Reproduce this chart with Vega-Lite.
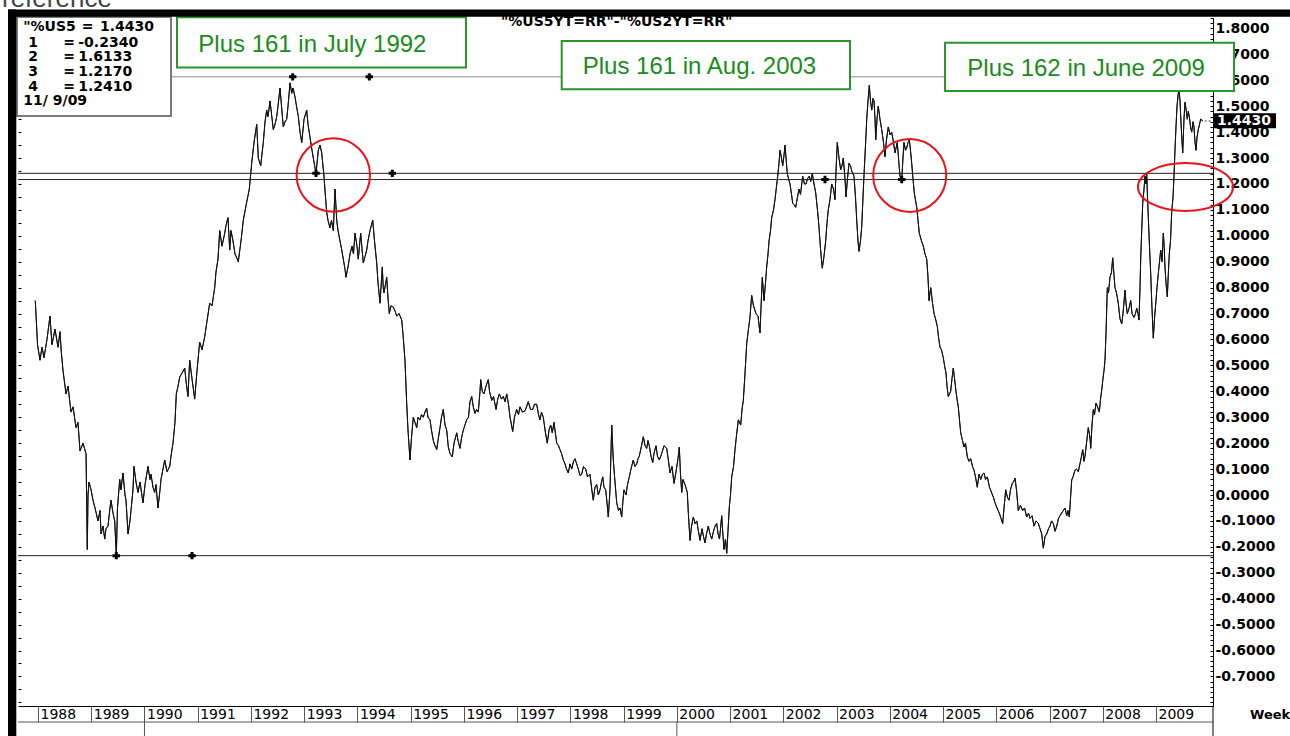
{
"$schema": "https://vega.github.io/schema/vega-lite/v6.json",
"width": 1195,
"height": 688,
"autosize": {"type": "none"},
"padding": {"left": 18, "top": 18, "right": 77, "bottom": 30},
"background": "white",
"config": {"view": {"stroke": null}, "axis": {"grid": false}},
"datasets": {
"spread": [
{"year":1987.949,"spread":0.75},{"year":1987.991,"spread":0.58},{"year":1988.038,"spread":0.52},{"year":1988.075,"spread":0.57},{"year":1988.113,"spread":0.53},{"year":1988.169,"spread":0.60},{"year":1988.225,"spread":0.69},{"year":1988.263,"spread":0.58},{"year":1988.319,"spread":0.64},{"year":1988.376,"spread":0.57},{"year":1988.413,"spread":0.63},{"year":1988.438,"spread":0.55},{"year":1988.470,"spread":0.48},{"year":1988.526,"spread":0.39},{"year":1988.564,"spread":0.42},{"year":1988.620,"spread":0.32},{"year":1988.658,"spread":0.34},{"year":1988.714,"spread":0.26},{"year":1988.751,"spread":0.28},{"year":1988.789,"spread":0.17},{"year":1988.845,"spread":0.20},{"year":1988.902,"spread":0.16},{"year":1988.926,"spread":-0.21},{"year":1988.939,"spread":0.00},{"year":1988.958,"spread":0.05},{"year":1988.996,"spread":0.02},
{"year":1989.033,"spread":-0.02},{"year":1989.071,"spread":-0.05},{"year":1989.127,"spread":-0.10},{"year":1989.165,"spread":-0.06},{"year":1989.184,"spread":-0.15},{"year":1989.221,"spread":-0.12},{"year":1989.253,"spread":-0.17},{"year":1989.277,"spread":-0.13},{"year":1989.315,"spread":-0.12},{"year":1989.352,"spread":-0.05},{"year":1989.371,"spread":-0.02},{"year":1989.409,"spread":-0.07},{"year":1989.441,"spread":-0.10},{"year":1989.471,"spread":-0.234},{"year":1989.493,"spread":-0.05},{"year":1989.535,"spread":0.06},{"year":1989.559,"spread":0.02},{"year":1989.596,"spread":0.085},{"year":1989.634,"spread":0.00},{"year":1989.653,"spread":-0.02},{"year":1989.691,"spread":-0.15},{"year":1989.728,"spread":-0.10},{"year":1989.747,"spread":-0.06},{"year":1989.784,"spread":0.02},{"year":1989.803,"spread":0.11},{"year":1989.841,"spread":0.05},{"year":1989.878,"spread":0.01},{"year":1989.916,"spread":0.05},{"year":1989.972,"spread":-0.03},
{"year":1990.010,"spread":0.04},{"year":1990.066,"spread":0.11},{"year":1990.104,"spread":0.06},{"year":1990.123,"spread":0.08},{"year":1990.160,"spread":0.03},{"year":1990.192,"spread":0.01},{"year":1990.216,"spread":0.04},{"year":1990.254,"spread":-0.05},{"year":1990.292,"spread":0.02},{"year":1990.310,"spread":0.06},{"year":1990.348,"spread":0.10},{"year":1990.380,"spread":0.135},{"year":1990.423,"spread":0.09},{"year":1990.474,"spread":0.11},{"year":1990.498,"spread":0.15},{"year":1990.536,"spread":0.20},{"year":1990.573,"spread":0.28},{"year":1990.598,"spread":0.39},{"year":1990.630,"spread":0.42},{"year":1990.662,"spread":0.455},{"year":1990.705,"spread":0.47},{"year":1990.756,"spread":0.49},{"year":1990.780,"spread":0.44},{"year":1990.817,"spread":0.38},{"year":1990.849,"spread":0.52},{"year":1990.892,"spread":0.45},{"year":1990.943,"spread":0.37},{"year":1990.987,"spread":0.48},
{"year":1991.037,"spread":0.59},{"year":1991.081,"spread":0.56},{"year":1991.131,"spread":0.61},{"year":1991.174,"spread":0.67},{"year":1991.225,"spread":0.74},{"year":1991.268,"spread":0.73},{"year":1991.319,"spread":0.80},{"year":1991.343,"spread":0.86},{"year":1991.381,"spread":0.91},{"year":1991.413,"spread":1.02},{"year":1991.456,"spread":0.96},{"year":1991.507,"spread":1.01},{"year":1991.531,"spread":1.04},{"year":1991.569,"spread":1.07},{"year":1991.601,"spread":0.945},{"year":1991.625,"spread":1.02},{"year":1991.663,"spread":0.98},{"year":1991.700,"spread":0.93},{"year":1991.743,"spread":0.91},{"year":1991.762,"spread":0.90},{"year":1991.813,"spread":0.98},{"year":1991.856,"spread":1.06},{"year":1991.920,"spread":1.13},{"year":1991.969,"spread":1.18},
{"year":1992.014,"spread":1.28},{"year":1992.057,"spread":1.36},{"year":1992.108,"spread":1.43},{"year":1992.138,"spread":1.30},{"year":1992.183,"spread":1.27},{"year":1992.232,"spread":1.36},{"year":1992.264,"spread":1.44},{"year":1992.296,"spread":1.485},{"year":1992.320,"spread":1.46},{"year":1992.358,"spread":1.52},{"year":1992.386,"spread":1.47},{"year":1992.420,"spread":1.41},{"year":1992.452,"spread":1.43},{"year":1992.484,"spread":1.46},{"year":1992.508,"spread":1.50},{"year":1992.546,"spread":1.57},{"year":1992.574,"spread":1.50},{"year":1992.608,"spread":1.42},{"year":1992.640,"spread":1.44},{"year":1992.672,"spread":1.45},{"year":1992.696,"spread":1.50},{"year":1992.734,"spread":1.59},{"year":1992.766,"spread":1.55},{"year":1992.790,"spread":1.57},{"year":1992.828,"spread":1.535},{"year":1992.856,"spread":1.50},{"year":1992.890,"spread":1.46},{"year":1992.922,"spread":1.40},{"year":1992.954,"spread":1.36},{"year":1992.997,"spread":1.45},
{"year":1993.047,"spread":1.485},{"year":1993.072,"spread":1.43},{"year":1993.109,"spread":1.38},{"year":1993.147,"spread":1.33},{"year":1993.171,"spread":1.30},{"year":1993.222,"spread":1.24},{"year":1993.265,"spread":1.33},{"year":1993.297,"spread":1.35},{"year":1993.329,"spread":1.32},{"year":1993.372,"spread":1.23},{"year":1993.400,"spread":1.15},{"year":1993.423,"spread":1.09},{"year":1993.447,"spread":1.06},{"year":1993.485,"spread":1.03},{"year":1993.513,"spread":1.06},{"year":1993.547,"spread":1.02},{"year":1993.579,"spread":1.18},{"year":1993.611,"spread":1.06},{"year":1993.635,"spread":1.02},{"year":1993.673,"spread":0.98},{"year":1993.701,"spread":0.95},{"year":1993.735,"spread":0.91},{"year":1993.767,"spread":0.87},{"year":1993.785,"spread":0.84},{"year":1993.823,"spread":0.88},{"year":1993.861,"spread":0.93},{"year":1993.898,"spread":0.96},{"year":1993.926,"spread":0.93},{"year":1993.954,"spread":1.01},{"year":1993.992,"spread":0.96},
{"year":1994.016,"spread":0.91},{"year":1994.061,"spread":1.01},{"year":1994.086,"spread":0.95},{"year":1994.110,"spread":0.895},{"year":1994.142,"spread":0.92},{"year":1994.174,"spread":0.945},{"year":1994.198,"spread":0.98},{"year":1994.236,"spread":1.02},{"year":1994.287,"spread":1.06},{"year":1994.321,"spread":0.98},{"year":1994.362,"spread":0.895},{"year":1994.386,"spread":0.82},{"year":1994.424,"spread":0.74},{"year":1994.467,"spread":0.88},{"year":1994.484,"spread":0.80},{"year":1994.499,"spread":0.78},{"year":1994.550,"spread":0.84},{"year":1994.574,"spread":0.76},{"year":1994.599,"spread":0.70},{"year":1994.630,"spread":0.73},{"year":1994.674,"spread":0.725},{"year":1994.706,"spread":0.71},{"year":1994.738,"spread":0.69},{"year":1994.781,"spread":0.70},{"year":1994.832,"spread":0.675},{"year":1994.856,"spread":0.62},{"year":1994.893,"spread":0.52},{"year":1994.925,"spread":0.355},{"year":1994.950,"spread":0.25},{"year":1994.987,"spread":0.135},
{"year":1995.015,"spread":0.22},{"year":1995.049,"spread":0.30},{"year":1995.081,"spread":0.28},{"year":1995.113,"spread":0.26},{"year":1995.138,"spread":0.30},{"year":1995.175,"spread":0.29},{"year":1995.203,"spread":0.31},{"year":1995.237,"spread":0.30},{"year":1995.269,"spread":0.32},{"year":1995.301,"spread":0.335},{"year":1995.325,"spread":0.30},{"year":1995.363,"spread":0.29},{"year":1995.391,"spread":0.25},{"year":1995.425,"spread":0.21},{"year":1995.457,"spread":0.19},{"year":1995.489,"spread":0.175},{"year":1995.513,"spread":0.21},{"year":1995.551,"spread":0.26},{"year":1995.579,"spread":0.30},{"year":1995.613,"spread":0.33},{"year":1995.645,"spread":0.27},{"year":1995.677,"spread":0.25},{"year":1995.707,"spread":0.185},{"year":1995.739,"spread":0.16},{"year":1995.782,"spread":0.147},{"year":1995.814,"spread":0.20},{"year":1995.865,"spread":0.24},{"year":1995.889,"spread":0.21},{"year":1995.926,"spread":0.18},{"year":1995.955,"spread":0.22},{"year":1995.988,"spread":0.25},
{"year":1996.020,"spread":0.27},{"year":1996.052,"spread":0.29},{"year":1996.086,"spread":0.30},{"year":1996.114,"spread":0.36},{"year":1996.146,"spread":0.38},{"year":1996.176,"spread":0.34},{"year":1996.208,"spread":0.315},{"year":1996.237,"spread":0.33},{"year":1996.270,"spread":0.32},{"year":1996.302,"spread":0.40},{"year":1996.315,"spread":0.445},{"year":1996.345,"spread":0.40},{"year":1996.377,"spread":0.39},{"year":1996.415,"spread":0.42},{"year":1996.458,"spread":0.445},{"year":1996.481,"spread":0.40},{"year":1996.522,"spread":0.365},{"year":1996.556,"spread":0.38},{"year":1996.603,"spread":0.33},{"year":1996.635,"spread":0.37},{"year":1996.665,"spread":0.39},{"year":1996.706,"spread":0.37},{"year":1996.740,"spread":0.38},{"year":1996.772,"spread":0.36},{"year":1996.804,"spread":0.39},{"year":1996.837,"spread":0.35},{"year":1996.866,"spread":0.30},{"year":1996.894,"spread":0.27},{"year":1996.916,"spread":0.245},{"year":1996.950,"spread":0.30},{"year":1996.991,"spread":0.33},
{"year":1997.025,"spread":0.31},{"year":1997.053,"spread":0.34},{"year":1997.100,"spread":0.32},{"year":1997.147,"spread":0.325},{"year":1997.176,"spread":0.34},{"year":1997.209,"spread":0.36},{"year":1997.251,"spread":0.33},{"year":1997.292,"spread":0.33},{"year":1997.326,"spread":0.35},{"year":1997.367,"spread":0.35},{"year":1997.401,"spread":0.31},{"year":1997.429,"spread":0.29},{"year":1997.457,"spread":0.32},{"year":1997.491,"spread":0.30},{"year":1997.532,"spread":0.24},{"year":1997.566,"spread":0.20},{"year":1997.598,"spread":0.25},{"year":1997.630,"spread":0.27},{"year":1997.660,"spread":0.24},{"year":1997.692,"spread":0.28},{"year":1997.743,"spread":0.20},{"year":1997.777,"spread":0.19},{"year":1997.805,"spread":0.175},{"year":1997.833,"spread":0.16},{"year":1997.867,"spread":0.135},{"year":1997.899,"spread":0.12},{"year":1997.927,"spread":0.10},{"year":1997.961,"spread":0.085},{"year":1997.993,"spread":0.12},
{"year":1998.025,"spread":0.10},{"year":1998.058,"spread":0.13},{"year":1998.086,"spread":0.14},{"year":1998.118,"spread":0.12},{"year":1998.149,"spread":0.10},{"year":1998.180,"spread":0.075},{"year":1998.212,"spread":0.08},{"year":1998.246,"spread":0.11},{"year":1998.288,"spread":0.10},{"year":1998.321,"spread":0.07},{"year":1998.368,"spread":0.08},{"year":1998.396,"spread":0.03},{"year":1998.430,"spread":-0.02},{"year":1998.462,"spread":0.03},{"year":1998.494,"spread":0.04},{"year":1998.524,"spread":0.00},{"year":1998.556,"spread":0.02},{"year":1998.584,"spread":0.05},{"year":1998.607,"spread":0.07},{"year":1998.631,"spread":0.03},{"year":1998.663,"spread":0.02},{"year":1998.688,"spread":-0.03},{"year":1998.712,"spread":-0.085},{"year":1998.744,"spread":0.02},{"year":1998.776,"spread":0.27},{"year":1998.806,"spread":0.135},{"year":1998.838,"spread":0.05},{"year":1998.870,"spread":-0.03},{"year":1998.904,"spread":-0.06},{"year":1998.932,"spread":-0.05},{"year":1998.964,"spread":-0.085},{"year":1998.988,"spread":-0.02},
{"year":1999.007,"spread":0.02},{"year":1999.045,"spread":0.00},{"year":1999.073,"spread":0.04},{"year":1999.106,"spread":0.07},{"year":1999.138,"spread":0.10},{"year":1999.181,"spread":0.135},{"year":1999.213,"spread":0.11},{"year":1999.245,"spread":0.12},{"year":1999.270,"spread":0.14},{"year":1999.294,"spread":0.15},{"year":1999.336,"spread":0.19},{"year":1999.370,"spread":0.225},{"year":1999.402,"spread":0.19},{"year":1999.433,"spread":0.18},{"year":1999.458,"spread":0.21},{"year":1999.482,"spread":0.19},{"year":1999.514,"spread":0.15},{"year":1999.546,"spread":0.125},{"year":1999.570,"spread":0.16},{"year":1999.608,"spread":0.19},{"year":1999.636,"spread":0.15},{"year":1999.670,"spread":0.135},{"year":1999.715,"spread":0.16},{"year":1999.758,"spread":0.19},{"year":1999.809,"spread":0.18},{"year":1999.843,"spread":0.13},{"year":1999.871,"spread":0.085},{"year":1999.908,"spread":0.11},{"year":1999.946,"spread":0.045},{"year":1999.984,"spread":0.09},
{"year":2000.021,"spread":0.14},{"year":2000.046,"spread":0.185},{"year":2000.068,"spread":0.08},{"year":2000.091,"spread":0.01},{"year":2000.115,"spread":0.06},{"year":2000.153,"spread":0.04},{"year":2000.196,"spread":0.01},{"year":2000.218,"spread":-0.08},{"year":2000.247,"spread":-0.175},{"year":2000.275,"spread":-0.12},{"year":2000.309,"spread":-0.085},{"year":2000.341,"spread":-0.11},{"year":2000.373,"spread":-0.10},{"year":2000.406,"spread":-0.14},{"year":2000.435,"spread":-0.175},{"year":2000.472,"spread":-0.13},{"year":2000.500,"spread":-0.16},{"year":2000.528,"spread":-0.185},{"year":2000.557,"spread":-0.15},{"year":2000.590,"spread":-0.12},{"year":2000.622,"spread":-0.15},{"year":2000.654,"spread":-0.17},{"year":2000.688,"spread":-0.14},{"year":2000.716,"spread":-0.12},{"year":2000.748,"spread":-0.11},{"year":2000.773,"spread":-0.15},{"year":2000.801,"spread":-0.17},{"year":2000.842,"spread":-0.08},{"year":2000.867,"spread":-0.16},{"year":2000.885,"spread":-0.21},{"year":2000.913,"spread":-0.17},{"year":2000.936,"spread":-0.225},{"year":2000.960,"spread":-0.14},{"year":2000.985,"spread":-0.045},
{"year":2001.007,"spread":0.00},{"year":2001.030,"spread":0.07},{"year":2001.064,"spread":0.11},{"year":2001.092,"spread":0.175},{"year":2001.120,"spread":0.23},{"year":2001.154,"spread":0.29},{"year":2001.199,"spread":0.27},{"year":2001.223,"spread":0.33},{"year":2001.248,"spread":0.365},{"year":2001.280,"spread":0.47},{"year":2001.312,"spread":0.585},{"year":2001.345,"spread":0.64},{"year":2001.373,"spread":0.685},{"year":2001.405,"spread":0.77},{"year":2001.439,"spread":0.73},{"year":2001.486,"spread":0.70},{"year":2001.524,"spread":0.69},{"year":2001.561,"spread":0.625},{"year":2001.580,"spread":0.72},{"year":2001.605,"spread":0.84},{"year":2001.637,"spread":0.75},{"year":2001.665,"spread":0.82},{"year":2001.687,"spread":0.88},{"year":2001.712,"spread":0.93},{"year":2001.731,"spread":0.98},{"year":2001.759,"spread":1.02},{"year":2001.781,"spread":1.07},{"year":2001.815,"spread":1.10},{"year":2001.843,"spread":1.14},{"year":2001.871,"spread":1.19},{"year":2001.894,"spread":1.23},{"year":2001.918,"spread":1.28},{"year":2001.937,"spread":1.33},{"year":2001.965,"spread":1.30},{"year":2001.988,"spread":1.27},
{"year":2002.012,"spread":1.31},{"year":2002.031,"spread":1.35},{"year":2002.050,"spread":1.30},{"year":2002.074,"spread":1.24},{"year":2002.097,"spread":1.22},{"year":2002.125,"spread":1.20},{"year":2002.153,"spread":1.16},{"year":2002.176,"spread":1.125},{"year":2002.200,"spread":1.12},{"year":2002.232,"spread":1.11},{"year":2002.266,"spread":1.15},{"year":2002.294,"spread":1.18},{"year":2002.322,"spread":1.16},{"year":2002.363,"spread":1.23},{"year":2002.397,"spread":1.20},{"year":2002.425,"spread":1.20},{"year":2002.453,"spread":1.22},{"year":2002.487,"spread":1.23},{"year":2002.515,"spread":1.21},{"year":2002.544,"spread":1.24},{"year":2002.576,"spread":1.20},{"year":2002.608,"spread":1.165},{"year":2002.641,"spread":1.10},{"year":2002.669,"spread":1.035},{"year":2002.698,"spread":0.95},{"year":2002.731,"spread":0.875},{"year":2002.763,"spread":0.92},{"year":2002.795,"spread":0.98},{"year":2002.820,"spread":1.05},{"year":2002.844,"spread":1.10},{"year":2002.876,"spread":1.14},{"year":2002.908,"spread":1.20},{"year":2002.942,"spread":1.18},{"year":2002.970,"spread":1.14},{"year":2002.989,"spread":1.25},
{"year":2003.013,"spread":1.36},{"year":2003.045,"spread":1.30},{"year":2003.077,"spread":1.255},{"year":2003.101,"spread":1.27},{"year":2003.126,"spread":1.30},{"year":2003.158,"spread":1.22},{"year":2003.177,"spread":1.15},{"year":2003.205,"spread":1.22},{"year":2003.233,"spread":1.28},{"year":2003.261,"spread":1.27},{"year":2003.284,"spread":1.25},{"year":2003.308,"spread":1.24},{"year":2003.327,"spread":1.23},{"year":2003.355,"spread":1.15},{"year":2003.378,"spread":1.06},{"year":2003.402,"spread":0.98},{"year":2003.421,"spread":0.94},{"year":2003.449,"spread":0.98},{"year":2003.472,"spread":1.035},{"year":2003.496,"spread":1.15},{"year":2003.520,"spread":1.255},{"year":2003.543,"spread":1.35},{"year":2003.566,"spread":1.45},{"year":2003.590,"spread":1.52},{"year":2003.614,"spread":1.58},{"year":2003.637,"spread":1.52},{"year":2003.660,"spread":1.485},{"year":2003.684,"spread":1.53},{"year":2003.703,"spread":1.52},{"year":2003.722,"spread":1.45},{"year":2003.735,"spread":1.37},{"year":2003.759,"spread":1.45},{"year":2003.783,"spread":1.50},{"year":2003.815,"spread":1.45},{"year":2003.847,"spread":1.41},{"year":2003.881,"spread":1.36},{"year":2003.909,"spread":1.305},{"year":2003.937,"spread":1.37},{"year":2003.971,"spread":1.42},
{"year":2004.003,"spread":1.39},{"year":2004.035,"spread":1.40},{"year":2004.069,"spread":1.36},{"year":2004.097,"spread":1.32},{"year":2004.140,"spread":1.36},{"year":2004.163,"spread":1.30},{"year":2004.191,"spread":1.23},{"year":2004.223,"spread":1.215},{"year":2004.247,"spread":1.30},{"year":2004.266,"spread":1.36},{"year":2004.294,"spread":1.33},{"year":2004.317,"spread":1.34},{"year":2004.341,"spread":1.36},{"year":2004.366,"spread":1.37},{"year":2004.388,"spread":1.33},{"year":2004.411,"spread":1.28},{"year":2004.435,"spread":1.22},{"year":2004.460,"spread":1.165},{"year":2004.505,"spread":1.11},{"year":2004.529,"spread":1.06},{"year":2004.554,"spread":1.01},{"year":2004.595,"spread":0.98},{"year":2004.629,"spread":0.96},{"year":2004.661,"spread":0.93},{"year":2004.693,"spread":0.91},{"year":2004.717,"spread":0.84},{"year":2004.736,"spread":0.75},{"year":2004.768,"spread":0.80},{"year":2004.802,"spread":0.74},{"year":2004.830,"spread":0.70},{"year":2004.858,"spread":0.68},{"year":2004.892,"spread":0.65},{"year":2004.914,"spread":0.61},{"year":2004.942,"spread":0.57},{"year":2004.970,"spread":0.56},
{"year":2005.004,"spread":0.53},{"year":2005.027,"spread":0.50},{"year":2005.055,"spread":0.47},{"year":2005.074,"spread":0.42},{"year":2005.098,"spread":0.38},{"year":2005.143,"spread":0.40},{"year":2005.168,"spread":0.45},{"year":2005.192,"spread":0.49},{"year":2005.215,"spread":0.45},{"year":2005.243,"spread":0.40},{"year":2005.262,"spread":0.37},{"year":2005.286,"spread":0.34},{"year":2005.308,"spread":0.29},{"year":2005.331,"spread":0.24},{"year":2005.365,"spread":0.21},{"year":2005.393,"spread":0.185},{"year":2005.421,"spread":0.20},{"year":2005.455,"spread":0.147},{"year":2005.487,"spread":0.13},{"year":2005.519,"spread":0.14},{"year":2005.553,"spread":0.11},{"year":2005.581,"spread":0.096},{"year":2005.609,"spread":0.07},{"year":2005.643,"spread":0.03},{"year":2005.675,"spread":0.08},{"year":2005.707,"spread":0.06},{"year":2005.741,"spread":0.08},{"year":2005.769,"spread":0.085},{"year":2005.797,"spread":0.06},{"year":2005.831,"spread":0.07},{"year":2005.872,"spread":0.03},{"year":2005.913,"spread":0.008},{"year":2005.947,"spread":-0.01},{"year":2005.975,"spread":-0.03},
{"year":2006.013,"spread":-0.05},{"year":2006.056,"spread":-0.07},{"year":2006.088,"spread":-0.09},{"year":2006.120,"spread":-0.11},{"year":2006.145,"spread":-0.05},{"year":2006.176,"spread":0.02},{"year":2006.210,"spread":-0.01},{"year":2006.238,"spread":-0.02},{"year":2006.266,"spread":0.02},{"year":2006.300,"spread":0.045},{"year":2006.323,"spread":0.05},{"year":2006.351,"spread":0.065},{"year":2006.379,"spread":0.02},{"year":2006.413,"spread":-0.06},{"year":2006.454,"spread":-0.04},{"year":2006.496,"spread":-0.06},{"year":2006.530,"spread":-0.05},{"year":2006.571,"spread":-0.085},{"year":2006.605,"spread":-0.07},{"year":2006.633,"spread":-0.09},{"year":2006.671,"spread":-0.08},{"year":2006.708,"spread":-0.12},{"year":2006.746,"spread":-0.10},{"year":2006.789,"spread":-0.11},{"year":2006.821,"spread":-0.13},{"year":2006.853,"spread":-0.15},{"year":2006.883,"spread":-0.205},{"year":2006.915,"spread":-0.16},{"year":2006.947,"spread":-0.15},{"year":2006.980,"spread":-0.13},
{"year":2007.009,"spread":-0.12},{"year":2007.037,"spread":-0.10},{"year":2007.071,"spread":-0.11},{"year":2007.103,"spread":-0.14},{"year":2007.135,"spread":-0.12},{"year":2007.168,"spread":-0.09},{"year":2007.197,"spread":-0.08},{"year":2007.225,"spread":-0.07},{"year":2007.259,"spread":-0.06},{"year":2007.290,"spread":-0.05},{"year":2007.322,"spread":-0.08},{"year":2007.347,"spread":-0.06},{"year":2007.371,"spread":-0.085},{"year":2007.416,"spread":0.058},{"year":2007.441,"spread":0.07},{"year":2007.478,"spread":0.096},{"year":2007.506,"spread":0.10},{"year":2007.540,"spread":0.09},{"year":2007.591,"spread":0.14},{"year":2007.623,"spread":0.175},{"year":2007.647,"spread":0.13},{"year":2007.666,"spread":0.15},{"year":2007.694,"spread":0.20},{"year":2007.728,"spread":0.26},{"year":2007.760,"spread":0.22},{"year":2007.773,"spread":0.18},{"year":2007.797,"spread":0.27},{"year":2007.822,"spread":0.33},{"year":2007.844,"spread":0.31},{"year":2007.873,"spread":0.355},{"year":2007.901,"spread":0.34},{"year":2007.935,"spread":0.32},{"year":2007.957,"spread":0.37},{"year":2007.980,"spread":0.405},
{"year":2008.004,"spread":0.45},{"year":2008.023,"spread":0.48},{"year":2008.041,"spread":0.52},{"year":2008.060,"spread":0.62},{"year":2008.085,"spread":0.80},{"year":2008.107,"spread":0.78},{"year":2008.135,"spread":0.84},{"year":2008.164,"spread":0.86},{"year":2008.186,"spread":0.915},{"year":2008.210,"spread":0.85},{"year":2008.229,"spread":0.80},{"year":2008.257,"spread":0.78},{"year":2008.291,"spread":0.74},{"year":2008.323,"spread":0.68},{"year":2008.355,"spread":0.66},{"year":2008.380,"spread":0.70},{"year":2008.417,"spread":0.79},{"year":2008.436,"spread":0.74},{"year":2008.460,"spread":0.70},{"year":2008.492,"spread":0.72},{"year":2008.524,"spread":0.75},{"year":2008.549,"spread":0.70},{"year":2008.586,"spread":0.685},{"year":2008.614,"spread":0.70},{"year":2008.637,"spread":0.72},{"year":2008.661,"spread":0.70},{"year":2008.680,"spread":0.675},{"year":2008.699,"spread":0.80},{"year":2008.712,"spread":0.91},{"year":2008.731,"spread":1.02},{"year":2008.750,"spread":1.125},{"year":2008.774,"spread":1.18},{"year":2008.793,"spread":1.23},{"year":2008.812,"spread":1.20},{"year":2008.825,"spread":1.24},{"year":2008.840,"spread":1.15},{"year":2008.855,"spread":1.07},{"year":2008.877,"spread":0.96},{"year":2008.900,"spread":0.855},{"year":2008.924,"spread":0.72},{"year":2008.949,"spread":0.605},{"year":2008.971,"spread":0.68},{"year":2008.999,"spread":0.75},
{"year":2009.018,"spread":0.80},{"year":2009.043,"spread":0.855},{"year":2009.065,"spread":0.90},{"year":2009.088,"spread":0.945},{"year":2009.112,"spread":0.90},{"year":2009.137,"spread":1.01},{"year":2009.153,"spread":0.96},{"year":2009.168,"spread":0.88},{"year":2009.187,"spread":0.82},{"year":2009.212,"spread":0.765},{"year":2009.230,"spread":0.85},{"year":2009.249,"spread":0.93},{"year":2009.272,"spread":0.98},{"year":2009.294,"spread":1.09},{"year":2009.319,"spread":1.15},{"year":2009.337,"spread":1.23},{"year":2009.356,"spread":1.33},{"year":2009.375,"spread":1.42},{"year":2009.394,"spread":1.50},{"year":2009.418,"spread":1.55},{"year":2009.435,"spread":1.56},{"year":2009.450,"spread":1.52},{"year":2009.478,"spread":1.40},{"year":2009.501,"spread":1.32},{"year":2009.525,"spread":1.45},{"year":2009.544,"spread":1.515},{"year":2009.563,"spread":1.49},{"year":2009.587,"spread":1.45},{"year":2009.606,"spread":1.48},{"year":2009.625,"spread":1.46},{"year":2009.648,"spread":1.42},{"year":2009.670,"spread":1.40},{"year":2009.695,"spread":1.44},{"year":2009.713,"spread":1.42},{"year":2009.732,"spread":1.36},{"year":2009.751,"spread":1.33},{"year":2009.770,"spread":1.38},{"year":2009.794,"spread":1.41},{"year":2009.817,"spread":1.43},{"year":2009.839,"spread":1.45},{"year":2009.877,"spread":1.443}
],
"anchors": [
{"year":1989.471,"spread":-0.234},{"year":1990.893,"spread":-0.234},{"year":1992.784,"spread":1.6133},{"year":1994.223,"spread":1.6133},{"year":1993.222,"spread":1.241},{"year":1994.655,"spread":1.241},{"year":2002.782,"spread":1.217},{"year":2004.223,"spread":1.217}
]
},
"resolve": {"axis": {"y": "independent"}},
"layer": [
{"layer": [
{"data": {"name": "spread"},
 "mark": {"type": "line", "color": "#111111", "strokeWidth": 1},
 "encoding": {
  "x": {"field": "year", "type": "quantitative",
   "scale": {"domain": [1987.6244, 2010.07], "nice": false, "zero": false},
   "axis": {"orient": "bottom", "title": null, "values": [1988,1989,1990,1991,1992,1993,1994,1995,1996,1997,1998,1999,2000,2001,2002,2003,2004,2005,2006,2007,2008,2009],
    "format": "d", "domain": true, "domainColor": "#000000", "domainWidth": 1, "ticks": true, "tickColor": "#555555", "tickSize": 16, "tickWidth": 1,
    "labelAlign": "left", "labelBaseline": "middle", "labelOffset": 2, "labelPadding": -8,
    "labelFont": "DejaVu Sans", "labelFontSize": 14, "labelFontWeight": "normal", "labelColor": "#000000",
    "labelFlush": false, "labelOverlap": false, "labelBound": false, "grid": false}},
  "y": {"field": "spread", "type": "quantitative",
   "scale": {"domain": [-0.814, 1.8403], "nice": false, "zero": false},
   "axis": {"orient": "right", "title": null, "tickCount": 130, "format": ".4f",
    "labelExpr": "(datum.value > -0.75 && abs(datum.value*10-round(datum.value*10))<0.01) ? replace(datum.label,'\u2212','-') : ''",
    "domain": true, "domainColor": "#000000", "domainWidth": 1, "tickColor": "#000000", "tickSize": -3, "tickWidth": 1,
    "labelPadding": 5, "labelFont": "DejaVu Sans", "labelFontWeight": "bold", "labelFontSize": 14, "labelColor": "#000000",
    "labelAlign": "left", "labelBaseline": "middle", "labelOverlap": false, "labelBound": false, "labelFlush": false, "grid": false}}
 }},
{"data": {"values": [{}]}, "mark": {"type": "rule", "color": "#222222", "strokeWidth": 1}, "encoding": {"y": {"datum": -0.234}}},
{"data": {"values": [{}]}, "mark": {"type": "rule", "color": "#222222", "strokeWidth": 1}, "encoding": {"y": {"datum": 1.241}}},
{"data": {"values": [{}]}, "mark": {"type": "rule", "color": "#222222", "strokeWidth": 1}, "encoding": {"y": {"datum": 1.217}}},
{"data": {"values": [{}]}, "mark": {"type": "rule", "color": "#8a8a8a", "strokeWidth": 1}, "encoding": {"y": {"datum": 1.6133}}},
{"data": {"name": "spread"}, "mark": {"type": "line", "color": "#111111", "strokeWidth": 1},
 "encoding": {"x": {"field": "year", "type": "quantitative"}, "y": {"field": "spread", "type": "quantitative"}}},
{"data": {"name": "anchors"}, "mark": {"type": "point", "shape": "cross", "filled": true, "color": "#000000", "size": 55, "opacity": 1},
 "encoding": {"x": {"field": "year", "type": "quantitative"}, "y": {"field": "spread", "type": "quantitative"}}},
{"data": {"values": [{}]}, "mark": {"type": "rect", "fill": "#ffffff", "stroke": "#7a7a7a", "strokeWidth": 2},
 "encoding": {"x": {"datum": 1987.6056}, "x2": {"datum": 1990.4982}, "y": {"datum": 1.8441}, "y2": {"datum": 1.4622}}},
{"data": {"values": [{}]}, "mark": {"type": "text", "text": "\"%US5", "align": "left", "baseline": "middle", "font": "DejaVu Sans", "fontWeight": "bold", "fontSize": 14, "color": "#000000"}, "encoding": {"x": {"datum": 1987.724}, "y": {"datum": 1.8044}}},
{"data": {"values": [{}]}, "mark": {"type": "text", "text": "=", "align": "left", "baseline": "middle", "font": "DejaVu Sans", "fontWeight": "bold", "fontSize": 14, "color": "#000000"}, "encoding": {"x": {"datum": 1988.821}, "y": {"datum": 1.8044}}},
{"data": {"values": [{}]}, "mark": {"type": "text", "text": "1.4430", "align": "left", "baseline": "middle", "font": "DejaVu Sans", "fontWeight": "bold", "fontSize": 14, "color": "#000000"}, "encoding": {"x": {"datum": 1989.165}, "y": {"datum": 1.8044}}},
{"data": {"values": [{}]}, "mark": {"type": "text", "text": "1", "align": "left", "baseline": "middle", "font": "DejaVu Sans", "fontWeight": "bold", "fontSize": 14, "color": "#000000"}, "encoding": {"x": {"datum": 1987.818}, "y": {"datum": 1.745}}},
{"data": {"values": [{}]}, "mark": {"type": "text", "text": "2", "align": "left", "baseline": "middle", "font": "DejaVu Sans", "fontWeight": "bold", "fontSize": 14, "color": "#000000"}, "encoding": {"x": {"datum": 1987.818}, "y": {"datum": 1.6887}}},
{"data": {"values": [{}]}, "mark": {"type": "text", "text": "3", "align": "left", "baseline": "middle", "font": "DejaVu Sans", "fontWeight": "bold", "fontSize": 14, "color": "#000000"}, "encoding": {"x": {"datum": 1987.818}, "y": {"datum": 1.6331}}},
{"data": {"values": [{}]}, "mark": {"type": "text", "text": "4", "align": "left", "baseline": "middle", "font": "DejaVu Sans", "fontWeight": "bold", "fontSize": 14, "color": "#000000"}, "encoding": {"x": {"datum": 1987.818}, "y": {"datum": 1.5752}}},
{"data": {"values": [{}]}, "mark": {"type": "text", "text": "=", "align": "left", "baseline": "middle", "font": "DejaVu Sans", "fontWeight": "bold", "fontSize": 14, "color": "#000000"}, "encoding": {"x": {"datum": 1988.475}, "y": {"datum": 1.745}}},
{"data": {"values": [{}]}, "mark": {"type": "text", "text": "=", "align": "left", "baseline": "middle", "font": "DejaVu Sans", "fontWeight": "bold", "fontSize": 14, "color": "#000000"}, "encoding": {"x": {"datum": 1988.475}, "y": {"datum": 1.6887}}},
{"data": {"values": [{}]}, "mark": {"type": "text", "text": "=", "align": "left", "baseline": "middle", "font": "DejaVu Sans", "fontWeight": "bold", "fontSize": 14, "color": "#000000"}, "encoding": {"x": {"datum": 1988.475}, "y": {"datum": 1.6331}}},
{"data": {"values": [{}]}, "mark": {"type": "text", "text": "=", "align": "left", "baseline": "middle", "font": "DejaVu Sans", "fontWeight": "bold", "fontSize": 14, "color": "#000000"}, "encoding": {"x": {"datum": 1988.475}, "y": {"datum": 1.5752}}},
{"data": {"values": [{}]}, "mark": {"type": "text", "text": "-0.2340", "align": "left", "baseline": "middle", "font": "DejaVu Sans", "fontWeight": "bold", "fontSize": 14, "color": "#000000"}, "encoding": {"x": {"datum": 1988.757}, "y": {"datum": 1.745}}},
{"data": {"values": [{}]}, "mark": {"type": "text", "text": "1.6133", "align": "left", "baseline": "middle", "font": "DejaVu Sans", "fontWeight": "bold", "fontSize": 14, "color": "#000000"}, "encoding": {"x": {"datum": 1988.757}, "y": {"datum": 1.6887}}},
{"data": {"values": [{}]}, "mark": {"type": "text", "text": "1.2170", "align": "left", "baseline": "middle", "font": "DejaVu Sans", "fontWeight": "bold", "fontSize": 14, "color": "#000000"}, "encoding": {"x": {"datum": 1988.757}, "y": {"datum": 1.6331}}},
{"data": {"values": [{}]}, "mark": {"type": "text", "text": "1.2410", "align": "left", "baseline": "middle", "font": "DejaVu Sans", "fontWeight": "bold", "fontSize": 14, "color": "#000000"}, "encoding": {"x": {"datum": 1988.757}, "y": {"datum": 1.5752}}},
{"data": {"values": [{}]}, "mark": {"type": "text", "text": "11/  9/09", "align": "left", "baseline": "middle", "font": "DejaVu Sans", "fontWeight": "bold", "fontSize": 14, "color": "#000000"}, "encoding": {"x": {"datum": 1987.724}, "y": {"datum": 1.522}}},
{"data": {"values": [{}]}, "mark": {"type": "text", "text": "\"%US5YT=RR\"-\"%US2YT=RR\"", "align": "center", "baseline": "middle", "font": "DejaVu Sans", "fontWeight": "bold", "fontSize": 14, "color": "#000000"}, "encoding": {"x": {"datum": 1998.870}, "y": {"datum": 1.8237}}},
{"data": {"values": [{}]}, "mark": {"type": "rect", "fill": "#ffffff", "stroke": "#2a962a", "strokeWidth": 2},
 "encoding": {"x": {"datum": 1990.6109}, "x2": {"datum": 1996.0395}, "y": {"datum": 1.8429}, "y2": {"datum": 1.6493}}},
{"data": {"values": [{}]}, "mark": {"type": "text", "text": "Plus 161 in July 1992", "align": "left", "baseline": "alphabetic", "font": "Liberation Sans", "fontSize": 24, "color": "#1a8c1a"}, "encoding": {"x": {"datum": 1991.0109}, "y": {"datum": 1.7103}}},
{"data": {"values": [{}]}, "mark": {"type": "rect", "fill": "#ffffff", "stroke": "#2a962a", "strokeWidth": 2},
 "encoding": {"x": {"datum": 1997.8366}, "x2": {"datum": 2003.2518}, "y": {"datum": 1.7515}, "y2": {"datum": 1.5652}}},
{"data": {"values": [{}]}, "mark": {"type": "text", "text": "Plus 161 in Aug. 2003", "align": "left", "baseline": "alphabetic", "font": "Liberation Sans", "fontSize": 24, "color": "#1a8c1a"}, "encoding": {"x": {"datum": 1998.231}, "y": {"datum": 1.6242}}},
{"data": {"values": [{}]}, "mark": {"type": "rect", "fill": "#ffffff", "stroke": "#2a962a", "strokeWidth": 2},
 "encoding": {"x": {"datum": 2005.0365}, "x2": {"datum": 2010.4648}, "y": {"datum": 1.745}, "y2": {"datum": 1.5586}}},
{"data": {"values": [{}]}, "mark": {"type": "text", "text": "Plus 162 in June 2009", "align": "left", "baseline": "alphabetic", "font": "Liberation Sans", "fontSize": 24, "color": "#1a8c1a"}, "encoding": {"x": {"datum": 2005.4553}, "y": {"datum": 1.6165}}},
{"data": {"values": [{}]}, "mark": {"type": "point", "shape": "circle", "size": 5388, "filled": false, "color": "#e8141b", "strokeWidth": 2, "opacity": 1}, "encoding": {"x": {"datum": 1993.547}, "y": {"datum": 1.2346}}},
{"data": {"values": [{}]}, "mark": {"type": "point", "shape": "circle", "size": 5329, "filled": false, "color": "#e8141b", "strokeWidth": 2, "opacity": 1}, "encoding": {"x": {"datum": 2004.373}, "y": {"datum": 1.2326}}},
{"data": {"values": [{}]}, "mark": {"type": "point", "shape": "M-1,0A1,0.505,0,1,1,1,0A1,0.505,0,1,1,-1,0Z", "size": 9025, "filled": false, "color": "#e8141b", "strokeWidth": 2, "opacity": 1}, "encoding": {"x": {"datum": 2009.553}, "y": {"datum": 1.1883}}},
{"data": {"values": [{}]}, "mark": {"type": "rule", "color": "#444444", "strokeWidth": 1, "strokeDash": [2, 2]},
 "encoding": {"x": {"datum": 2009.913}, "x2": {"datum": 2010.06}, "y": {"datum": 1.443}}},
{"data": {"values": [{}]}, "mark": {"type": "rect", "fill": "#000000"},
 "encoding": {"x": {"datum": 2010.089}, "x2": {"datum": 2011.254}, "y": {"datum": 1.4726}, "y2": {"datum": 1.4147}}},
{"data": {"values": [{}]}, "mark": {"type": "text", "text": "1.4430", "align": "left", "baseline": "middle", "font": "DejaVu Sans", "fontWeight": "bold", "fontSize": 14, "color": "#ffffff"}, "encoding": {"x": {"datum": 2010.145}, "y": {"datum": 1.443}}},
{"data": {"values": [{}]}, "mark": {"type": "text", "text": "Weekly", "align": "left", "baseline": "middle", "font": "DejaVu Sans", "fontWeight": "bold", "fontSize": 13, "color": "#000000"}, "encoding": {"x": {"datum": 2010.766}, "y": {"datum": -0.8488}}},
{"data": {"values": [{}]}, "mark": {"type": "text", "text": "reference", "align": "left", "baseline": "alphabetic", "font": "Liberation Sans", "fontSize": 26, "color": "#444444"}, "encoding": {"x": {"datum": 1987.324}, "y": {"datum": 1.8827}}},
{"data": {"values": [{}]}, "mark": {"type": "rule", "color": "#555555", "strokeWidth": 1},
 "encoding": {"x": {"datum": 1987.6244}, "x2": {"datum": 2010.07}, "y": {"datum": -0.8758}}},
{"data": {"values": [{}]}, "mark": {"type": "rule", "color": "#555555", "strokeWidth": 1},
 "encoding": {"x": {"datum": 1990}, "y": {"datum": -0.8758}, "y2": {"datum": -0.95}}},
{"data": {"values": [{}]}, "mark": {"type": "rule", "color": "#555555", "strokeWidth": 1},
 "encoding": {"x": {"datum": 2000}, "y": {"datum": -0.8758}, "y2": {"datum": -0.95}}},
{"data": {"values": [{}]}, "mark": {"type": "rule", "color": "#000000", "strokeWidth": 1},
 "encoding": {"x": {"datum": 2010.07}, "y": {"datum": -0.814}, "y2": {"datum": -0.95}}},
{"data": {"values": [{}]}, "mark": {"type": "rect", "fill": "#000000"},
 "encoding": {"x": {"datum": 1987.4366}, "x2": {"datum": 2011.7}, "y": {"datum": 1.8731}, "y2": {"datum": 1.8449}}},
{"data": {"values": [{}]}, "mark": {"type": "rect", "fill": "#000000"},
 "encoding": {"x": {"datum": 1987.4366}, "x2": {"datum": 1987.5925}, "y": {"datum": 1.8731}, "y2": {"datum": -0.95}}}
]},
{"data": {"values": [{}]}, "mark": {"type": "point", "opacity": 0},
 "encoding": {"y": {"datum": 0, "type": "quantitative",
  "axis": {"orient": "left", "title": null, "tickCount": 53, "labels": false, "domain": false, "ticks": true, "tickSize": -3, "tickColor": "#000000", "tickWidth": 1, "grid": false}}}}
]
}
